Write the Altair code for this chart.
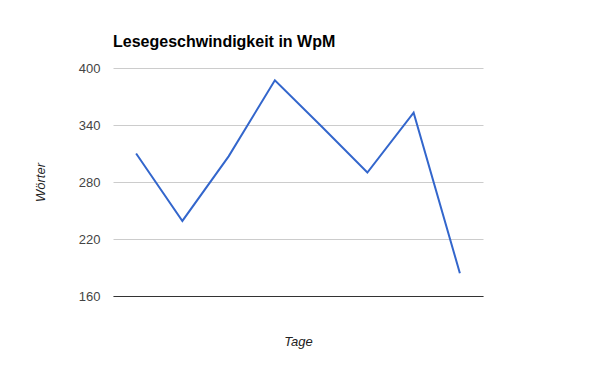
import altair as alt
import pandas as pd

days = [1, 2, 3, 4, 5, 6, 7, 8]
words = [310, 239, 307, 387, 339, 290, 353, 184]

df = pd.DataFrame({"Tag": days, "Wörter": words})

FONT = "Arial, Liberation Sans, sans-serif"

chart = alt.Chart(df).mark_line(color="#3366cc", strokeWidth=2).encode(
    x=alt.X("Tag:O", scale=alt.Scale(type="point", padding=0.5),
            axis=alt.Axis(title="Tage", labels=False, ticks=False, grid=False,
                          domainColor="#333333", domainWidth=1,
                          titleFont=FONT, titleFontSize=13, titleFontStyle="italic",
                          titleFontWeight="normal", titleColor="#222222",
                          titleX=185, titleY=45, titleBaseline="middle", titleAlign="center")),
    y=alt.Y("Wörter:Q", scale=alt.Scale(domain=[160, 400], nice=False, zero=False),
            axis=alt.Axis(title="Wörter", values=[160, 220, 280, 340, 400], ticks=False, domain=False,
                          gridColor="#cccccc", labelPadding=13,
                          labelFont=FONT, labelFontSize=13, labelColor="#444444",
                          titleFont=FONT, titleFontSize=13, titleFontStyle="italic",
                          titleFontWeight="normal", titleColor="#222222",
                          titleX=-73, titleY=114, titleAngle=-90,
                          titleBaseline="middle", titleAlign="center")),
).properties(
    width=370,
    height=228,
    title=alt.TitleParams("Lesegeschwindigkeit in WpM", anchor="start", frame="group",
                          font=FONT, fontSize=16, fontWeight="bold", color="#000000",
                          offset=12),
    autosize=alt.AutoSizeParams(type="none"),
    padding={"left": 113, "top": 68, "right": 112, "bottom": 70},
).configure_view(stroke=None)

chart.save("out.html", embed_options={"renderer": "svg", "actions": False})
